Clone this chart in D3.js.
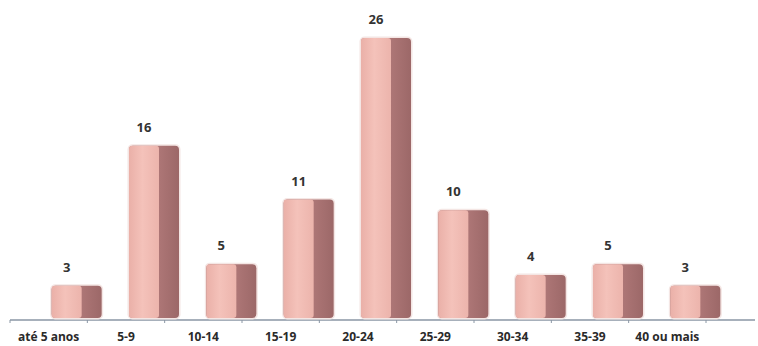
<!DOCTYPE html>
<html><head><meta charset="utf-8">
<script src="https://cdn.jsdelivr.net/npm/d3@7"></script>
<style>body{margin:0;background:#fff}svg{display:block}</style>
</head><body>
<script>
const categories = ["até 5 anos","5-9","10-14","15-19","20-24","25-29","30-34","35-39","40 ou mais"];
const values = [3,16,5,11,26,10,4,5,3];

const W = 758, H = 346;
const svg = d3.select("body").append("svg").attr("width", W).attr("height", H);
const defs = svg.append("defs");
const gf = defs.append("linearGradient").attr("id","gf").attr("x1","0").attr("x2","1").attr("y1","0").attr("y2","0");
gf.append("stop").attr("offset","0").attr("stop-color","#eab0a8");
gf.append("stop").attr("offset","0.45").attr("stop-color","#f4c2ba");
gf.append("stop").attr("offset","1").attr("stop-color","#ecb4ac");
const gs = defs.append("linearGradient").attr("id","gs").attr("x1","0").attr("x2","1").attr("y1","0").attr("y2","0");
gs.append("stop").attr("offset","0").attr("stop-color","#9e6666");
gs.append("stop").attr("offset","0.6").attr("stop-color","#ad7676");
gs.append("stop").attr("offset","1").attr("stop-color","#9c6868");

const x = d3.scaleBand().domain(categories).range([10, 706]).paddingInner(0).paddingOuter(0);
const y = d3.scaleLinear().domain([0, 26]).range([318, 38]);

// axis
const axis = d3.axisBottom(x).tickSize(0).tickFormat(d => d);
const ag = svg.append("g").attr("transform","translate(0,320)").call(axis);
ag.select(".domain").remove();
ag.selectAll("text").attr("dy", null).attr("y", 21)
  .style("font-family","'Open Sans', sans-serif").style("font-weight","bold")
  .style("font-size","12px").attr("fill","#2a2a2a");
svg.append("line").attr("x1",10).attr("x2",755).attr("y1",320).attr("y2",320)
  .attr("stroke","#8a96a4").attr("stroke-width",1.5);
const bounds = categories.map(c => x(c)).concat([x(categories[categories.length-1]) + x.bandwidth()]);
svg.selectAll(".tk").data(bounds).join("line").attr("class","tk")
  .attr("x1", d=>d).attr("x2", d=>d).attr("y1",320).attr("y2",323)
  .attr("stroke","#8a96a4").attr("stroke-width",1);

const FW = 30, SW = 20;
const bx = d => x(d) + x.bandwidth()/2 + 3;
const bars = svg.selectAll(".bar").data(categories.map((c,i)=>({c, v: values[i]}))).join("g").attr("class","bar");
bars.append("rect").attr("x", d=>bx(d.c)-1.5).attr("y", d=>y(d.v)-1.5)
  .attr("width", FW+SW+3).attr("height", d=>y(0)-y(d.v)+3).attr("rx",5)
  .attr("fill","#f4e6e4");
bars.append("rect").attr("x", d=>bx(d.c)).attr("y", d=>y(d.v))
  .attr("width", FW+SW).attr("height", d=>y(0)-y(d.v)).attr("rx",4)
  .attr("fill","url(#gs)");
bars.append("rect").attr("x", d=>bx(d.c)).attr("y", d=>y(d.v))
  .attr("width", FW).attr("height", d=>y(0)-y(d.v)).attr("rx",3)
  .attr("fill","url(#gf)");
bars.append("text").attr("x", d=>bx(d.c)+FW/2).attr("y", d=>y(d.v)-14)
  .attr("text-anchor","middle").text(d=>d.v)
  .style("font-family","'Open Sans', sans-serif").style("font-weight","bold")
  .style("font-size","13px").attr("fill","#333");
</script>
</body></html>
